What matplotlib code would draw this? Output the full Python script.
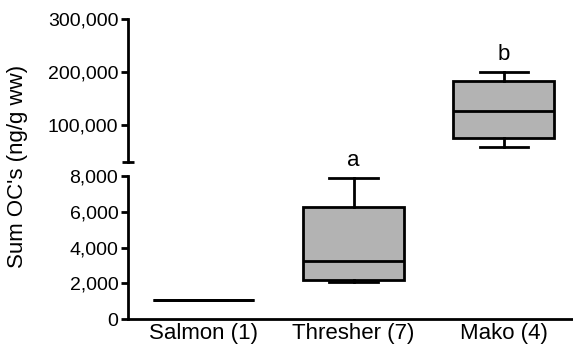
import matplotlib
matplotlib.use("Agg")
import matplotlib.pyplot as plt
from matplotlib.ticker import StrMethodFormatter

plt.rcParams['font.family'] = ['Liberation Sans', 'DejaVu Sans']

# data (ng/g ww)
species = ["Salmon (1)", "Thresher (7)", "Mako (4)"]
whisker_low = [1100, 2080, 58000]
q1 = [1100, 2190, 75000]
median = [1100, 3250, 126000]
q3 = [1100, 6260, 183000]
whisker_high = [1100, 7870, 200000]
letters = ["", "a", "b"]

stats = []
for i in range(len(species)):
    stats.append(dict(whislo=whisker_low[i], q1=q1[i], med=median[i],
                      q3=q3[i], whishi=whisker_high[i], fliers=[]))

fig = plt.figure(figsize=(5.73, 3.48), dpi=100)
left = 128 / 573
width = 451 / 573
ax_top = fig.add_axes([left, 0.5345, width, 0.41])
ax_bot = fig.add_axes([left, 0.0825, width, 0.4125])

box_kw = dict(widths=0.67, patch_artist=True, showfliers=False,
              boxprops=dict(facecolor="#b3b3b3", edgecolor="black", linewidth=2),
              medianprops=dict(color="black", linewidth=2),
              whiskerprops=dict(color="black", linewidth=2),
              capprops=dict(color="black", linewidth=2),
              capwidths=0.32)

for ax in (ax_top, ax_bot):
    ax.bxp(stats, positions=[1, 2, 3], **box_kw)
    ax.set_xlim(0.5, 3.5)
    ax.spines["top"].set_visible(False)
    ax.spines["right"].set_visible(False)
    ax.spines["left"].set_linewidth(2)
    ax.yaxis.set_major_formatter(StrMethodFormatter("{x:,.0f}"))
    ax.tick_params(axis="y", direction="out", length=5, width=2, labelsize=14, pad=2)
    ax.patch.set_visible(False)

ax_top.set_ylim(30000, 300000)
ax_top.set_yticks([100000, 200000, 300000])
ax_top.spines["bottom"].set_visible(False)
ax_top.set_xticks([])
# break mark at the bottom of the upper spine
ax_top.plot([0], [0], marker="_", markersize=8, mew=2, color="black",
            transform=ax_top.transAxes, clip_on=False)

ax_bot.set_ylim(0, 8000)
ax_bot.set_yticks([0, 2000, 4000, 6000, 8000])
ax_bot.spines["bottom"].set_linewidth(2)
ax_bot.set_xticks([1, 2, 3])
ax_bot.set_xticklabels(species)
ax_bot.tick_params(axis="x", length=0, labelsize=16, pad=3)

# significance letters above the whiskers
for i, lab in enumerate(letters):
    if not lab:
        continue
    ax = ax_top if whisker_high[i] > 30000 else ax_bot
    ax.annotate(lab, (i + 1, whisker_high[i]), xytext=(0, 5),
                textcoords="offset points", ha="center", va="bottom",
                fontsize=16, annotation_clip=False)

fig.text(0.03, 0.523, "Sum OC's (ng/g ww)", rotation=90, ha="center",
         va="center", fontsize=16)

fig.savefig("out.png", dpi=100)
